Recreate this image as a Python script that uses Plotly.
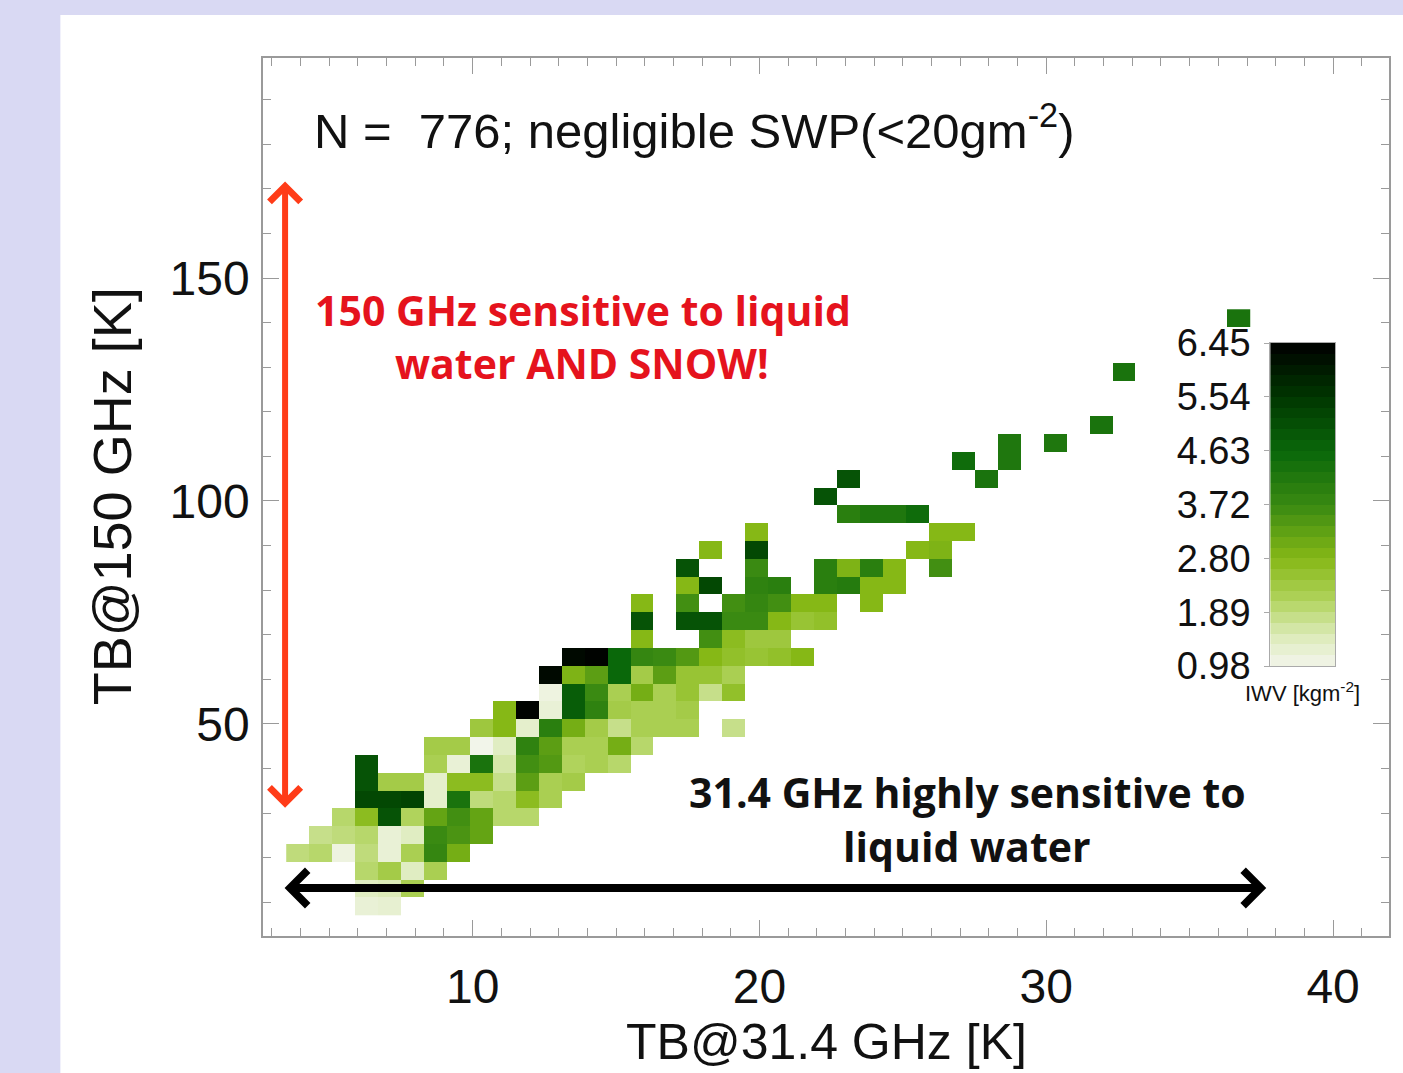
import numpy as np
import plotly.graph_objects as go

# ---------------- data ----------------
# bin centres of the 2-D histogram
tb31_centers = [3.9, 4.7, 5.5, 6.3, 7.1, 7.9, 8.7, 9.5, 10.3, 11.1, 11.9, 12.7, 13.5, 14.3,
                15.1, 15.9, 16.7, 17.5, 18.3, 19.1, 19.9, 20.7, 21.5, 22.3, 23.1, 23.9, 24.7,
                25.5, 26.3, 27.1, 27.9, 28.7, 29.5, 30.3, 31.1, 31.9, 32.7, 33.5, 34.3, 35.1,
                35.9, 36.7]
tb150_centers = [9, 13, 17, 21, 25, 29, 33, 37, 41, 45, 49, 53, 57, 61, 65, 69, 73, 77, 81,
                 85, 89, 93, 97, 101, 105, 109, 113, 117, 121, 125, 129, 133, 137, 141]

# occupied cells, row by row: TB@150 row centre, TB@31.4 cell centres, mean IWV
tb150_rows = [9, 13, 17, 21, 25, 29, 33, 37, 41, 45, 49, 53, 57, 61, 65, 69, 73, 77, 81,
              85, 89, 93, 97, 101, 105, 109, 113, 117, 129, 141]
tb31_by_row = [
    [6.3, 7.1],
    [6.3, 7.1, 7.9],
    [6.3, 7.1, 7.9, 8.7],
    [3.9, 4.7, 5.5, 6.3, 7.1, 7.9, 8.7, 9.5],
    [4.7, 5.5, 6.3, 7.1, 7.9, 8.7, 9.5, 10.3],
    [5.5, 6.3, 7.1, 7.9, 8.7, 9.5, 10.3, 11.1, 11.9],
    [6.3, 7.1, 7.9, 8.7, 9.5, 10.3, 11.1, 11.9, 12.7],
    [6.3, 7.1, 7.9, 8.7, 9.5, 10.3, 11.1, 11.9, 12.7, 13.5],
    [6.3, 8.7, 9.5, 10.3, 11.1, 11.9, 12.7, 13.5, 14.3, 15.1],
    [8.7, 9.5, 10.3, 11.1, 11.9, 12.7, 13.5, 14.3, 15.1, 15.9],
    [10.3, 11.1, 11.9, 12.7, 13.5, 14.3, 15.1, 15.9, 16.7, 17.5, 19.1],
    [11.1, 11.9, 12.7, 13.5, 14.3, 15.1, 15.9, 16.7, 17.5],
    [12.7, 13.5, 14.3, 15.1, 15.9, 16.7, 17.5, 18.3, 19.1],
    [12.7, 13.5, 14.3, 15.1, 15.9, 16.7, 17.5, 18.3, 19.1],
    [13.5, 14.3, 15.1, 15.9, 16.7, 17.5, 18.3, 19.1, 19.9, 20.7, 21.5],
    [15.9, 18.3, 19.1, 19.9, 20.7],
    [15.9, 17.5, 18.3, 19.1, 19.9, 20.7, 21.5, 22.3],
    [15.9, 17.5, 19.1, 19.9, 20.7, 21.5, 22.3, 23.9],
    [17.5, 18.3, 19.9, 20.7, 22.3, 23.1, 23.9, 24.7],
    [17.5, 19.9, 22.3, 23.1, 23.9, 24.7, 26.3],
    [18.3, 19.9, 25.5, 26.3],
    [19.9, 26.3, 27.1],
    [23.1, 23.9, 24.7, 25.5],
    [22.3],
    [23.1, 27.9],
    [27.1, 28.7],
    [28.7, 30.3],
    [31.9],
    [32.7],
    [36.7],
]
iwv_by_row = [
    [1.2, 1.25],
    [1.4, 1.5, 2.2],
    [2.0, 2.3, 1.4, 2.2],
    [1.9, 2.0, 1.1, 1.9, 1.2, 2.2, 3.8, 3.0],
    [1.8, 1.9, 2.0, 1.2, 1.4, 3.7, 3.5, 3.2],
    [2.0, 2.7, 5.0, 2.1, 3.2, 3.6, 3.2, 2.0, 2.0],
    [5.2, 5.2, 5.3, 1.3, 4.3, 1.9, 2.0, 2.7, 2.2],
    [5.0, 2.3, 2.3, 1.3, 2.7, 2.7, 1.8, 3.3, 2.2, 2.3],
    [5.0, 2.2, 1.2, 4.3, 1.6, 3.6, 3.4, 2.1, 2.2, 2.0],
    [2.3, 2.3, 1.0, 1.4, 3.9, 3.3, 2.2, 2.2, 3.0, 2.0],
    [2.4, 2.8, 1.3, 4.0, 3.0, 2.3, 1.8, 2.2, 2.2, 2.2, 1.8],
    [2.8, 6.4, 1.2, 4.8, 3.9, 2.3, 2.2, 2.2, 2.3],
    [1.1, 4.8, 3.7, 2.2, 3.0, 2.2, 2.5, 1.8, 2.6],
    [6.3, 2.9, 3.3, 4.6, 2.3, 3.3, 2.5, 2.5, 2.2],
    [6.3, 6.4, 4.6, 3.8, 3.7, 3.4, 2.8, 2.6, 2.5, 2.6, 2.8],
    [2.8, 3.6, 2.7, 2.4, 2.4],
    [5.0, 5.0, 5.0, 3.7, 3.7, 2.8, 2.5, 2.6],
    [2.8, 3.6, 3.6, 3.8, 3.6, 2.8, 2.8, 2.8],
    [2.8, 5.2, 3.9, 4.0, 4.0, 4.1, 2.8, 2.8],
    [5.0, 3.7, 4.0, 2.9, 4.0, 2.8, 3.6],
    [2.8, 5.2, 2.8, 2.9],
    [2.8, 2.8, 2.8],
    [4.0, 4.2, 4.2, 4.5],
    [5.0],
    [5.0, 4.3],
    [4.5, 4.2],
    [4.2, 4.2],
    [4.3],
    [4.3],
    [4.3],
]

iwv_ticks = [0.98, 1.89, 2.80, 3.72, 4.63, 5.54, 6.45]
iwv_ticktext = ["0.98", "1.89", "2.80", "3.72", "4.63", "5.54", "6.45"]
n_obs = 776

# ---------------- build the histogram grid ----------------
col_of = {round(v, 1): i for i, v in enumerate(tb31_centers)}
row_of = {v: i for i, v in enumerate(tb150_centers)}
z = [[None] * len(tb31_centers) for _ in tb150_centers]
for yv, xs, vals in zip(tb150_rows, tb31_by_row, iwv_by_row):
    for xv, v in zip(xs, vals):
        z[row_of[yv]][col_of[round(xv, 1)]] = v

zmin, zmax = iwv_ticks[0], iwv_ticks[-1]


def nrm(v):
    return (v - zmin) / (zmax - zmin)


colorscale = [
    [0.0, "#f3f5ec"],
    [nrm(1.5), "#dcebb8"],
    [nrm(2.1), "#b0d35c"],
    [nrm(2.8), "#86b816"],
    [nrm(3.7), "#3a8a12"],
    [nrm(4.6), "#0a680a"],
    [nrm(5.5), "#003800"],
    [1.0, "#000000"],
]

# ---------------- figure ----------------
W, H = 1403, 1073
ML, MR, MT, MB = 263, 12, 58, 137
PW, PH = W - ML - MR, H - MT - MB


def px(xp):
    return (xp - ML) / PW


def py(yp):
    return (H - MB - yp) / PH


fig = go.Figure()

fig.add_trace(go.Heatmap(
    x=tb31_centers, y=tb150_centers, z=z,
    colorscale=colorscale, zmin=zmin, zmax=zmax,
    showscale=False, hoverongaps=False, xgap=0, ygap=0,
))

# colour bar drawn as an inset axis so its labels can sit on the left
edges = np.linspace(zmin, zmax, 31)
band = ((edges[:-1] + edges[1:]) / 2).tolist()
fig.add_trace(go.Heatmap(
    x=[0], y=band, z=[[b] for b in band],
    colorscale=colorscale, zmin=zmin, zmax=zmax,
    showscale=False, xaxis="x2", yaxis="y2", hoverinfo="skip",
))

sans = "Liberation Sans, Arial, sans-serif"
axis_font = dict(family=sans, size=48, color="#111111")
grey = "#9a9a9a"

fig.update_layout(
    width=W, height=H,
    margin=dict(l=ML, r=MR, t=MT, b=MB, pad=0),
    paper_bgcolor="#d9d9f3",
    plot_bgcolor="#ffffff",
    showlegend=False,
    xaxis=dict(
        range=[2.69, 41.95], tick0=0, dtick=10, ticks="inside", ticklen=16, tickwidth=1.2,
        tickcolor=grey, showline=True, linecolor=grey, linewidth=1.5, mirror="ticks",
        showgrid=False, zeroline=False, tickfont=axis_font, ticklabelstandoff=8,
        minor=dict(dtick=1, tick0=0, ticks="inside", ticklen=8, tickwidth=1, tickcolor=grey),
    ),
    yaxis=dict(
        range=[2.43, 199.36], tick0=0, dtick=50, ticks="inside", ticklen=16, tickwidth=1.2,
        tickcolor=grey, showline=True, linecolor=grey, linewidth=1.5, mirror="ticks",
        showgrid=False, zeroline=False, tickfont=axis_font, ticklabelstandoff=2,
        minor=dict(dtick=10, tick0=0, ticks="inside", ticklen=8, tickwidth=1, tickcolor=grey),
    ),
    xaxis2=dict(
        domain=[px(1272), px(1337)], anchor="y2", range=[-0.5, 0.5],
        showticklabels=False, ticks="", showline=True, linecolor="#aaaaaa", linewidth=1,
        mirror=True, showgrid=False, zeroline=False, fixedrange=True,
    ),
    yaxis2=dict(
        domain=[py(666), py(343)], anchor="x2", range=[zmin, zmax], side="left",
        tickvals=iwv_ticks, ticktext=iwv_ticktext, ticks="outside", ticklen=5,
        tickcolor="#aaaaaa", showline=True, linecolor="#aaaaaa", linewidth=1, mirror=True,
        showgrid=False, zeroline=False, ticklabelstandoff=6,
        tickfont=dict(family=sans, size=38, color="#111111"),
        fixedrange=True,
    ),
)

# white slide panel behind the chart
fig.add_shape(type="rect", xref="paper", yref="paper",
              x0=px(60), x1=px(W + 5), y0=py(H + 5), y1=py(15),
              fillcolor="#ffffff", line=dict(width=0), layer="below")

ann = []
# header
ann.append(dict(xref="paper", yref="paper", x=px(312), y=py(127), xanchor="left", yanchor="middle",
                text=f"N = \u00a0{n_obs}; negligible SWP(&lt;20gm<sup>-2</sup>)", showarrow=False,
                font=dict(family=sans, size=49, color="#111111")))
# axis titles
ann.append(dict(xref="paper", yref="paper", x=px(828), y=py(1042), xanchor="center", yanchor="middle",
                text="TB@31.4 GHz [K]", showarrow=False,
                font=dict(family=sans, size=50, color="#111111")))
ann.append(dict(xref="paper", yref="paper", x=px(112), y=py(496), xanchor="center", yanchor="middle",
                text="TB@150 GHz [K]", textangle=-90, showarrow=False,
                font=dict(family=sans, size=54, color="#111111")))
# colour-bar label
ann.append(dict(xref="x2 domain", yref="y2 domain", x=0.5, y=0, xanchor="center", yanchor="top",
                yshift=-10, text="IWV [kgm<sup>-2</sup>]", showarrow=False,
                font=dict(family=sans, size=22, color="#111111")))
# red note
red_font = dict(family="Open Sans, sans-serif", size=41, color="#e5131d", weight="bold")
ann.append(dict(xref="paper", yref="paper", x=px(584), y=py(310), xanchor="center", yanchor="middle",
                text="150 GHz sensitive to liquid", showarrow=False, font=red_font))
ann.append(dict(xref="paper", yref="paper", x=px(583), y=py(363), xanchor="center", yanchor="middle",
                text="water AND SNOW!", showarrow=False, font=red_font))
# black note
blk_font = dict(family="Open Sans, sans-serif", size=41, color="#111111", weight="bold")
ann.append(dict(xref="paper", yref="paper", x=px(969), y=py(792), xanchor="center", yanchor="middle",
                text="31.4 GHz highly sensitive to", showarrow=False, font=blk_font))
ann.append(dict(xref="paper", yref="paper", x=px(968), y=py(846), xanchor="center", yanchor="middle",
                text="liquid water", showarrow=False, font=blk_font))
# double-headed arrows
ann.append(dict(xref="x", yref="y", axref="x", ayref="y", x=3.46, y=31.2, ax=3.46, ay=172,
                text="", showarrow=True, arrowside="end+start", arrowhead=4, startarrowhead=4,
                arrowsize=1.0, startarrowsize=1.0, arrowwidth=6, arrowcolor="#ff3c18"))
ann.append(dict(xref="x", yref="y", axref="x", ayref="y", x=37.67, y=13.2, ax=3.39, ay=13.2,
                text="", showarrow=True, arrowside="end+start", arrowhead=4, startarrowhead=4,
                arrowsize=0.85, startarrowsize=0.85, arrowwidth=8, arrowcolor="#000000"))

fig.update_layout(annotations=ann)

fig.write_html("out.html")
